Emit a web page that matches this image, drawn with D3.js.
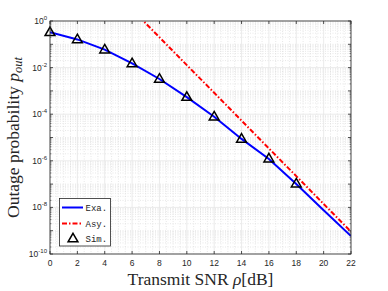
<!DOCTYPE html>
<html><head><meta charset="utf-8">
<script src="https://cdn.jsdelivr.net/npm/d3@7"></script>
<style>body{margin:0;background:#fff}svg{display:block}</style>
</head><body>
<svg id="c" width="388" height="291"></svg>
<script>
const snrExa = [0,2,4,6,8,10,12,14,16,18,20,22];
const poutExa = [0.327,0.162,0.0589,0.0151,0.00324,5.4e-4,7.8e-5,8.7e-6,1.2e-6,1.0e-7,7.6e-9,5.9e-10];
const snrAsy = [6,8,10,12,14,16,18,20,22];
const poutAsy = [3.1,0.2,0.0128,8.3e-4,5.3e-5,3.4e-6,2.2e-7,1.4e-8,9.1e-10];
const snrSim = [0,2,4,6,8,10,12,14,16,18];
const poutSim = [0.33,0.163,0.059,0.0152,0.0033,5.5e-4,7.9e-5,8.8e-6,1.25e-6,1.05e-7];
const xTicks = [0,2,4,6,8,10,12,14,16,18,20,22];
const yTickExp = [0,-2,-4,-6,-8,-10];
const legendLabels = ["Exa.","Asy.","Sim."];

const svg = d3.select("#c");
const L=50,R=351,T=21,B=254;
const x = d3.scaleLinear().domain([0,22]).range([L,R]);
const y = d3.scaleLog().domain([1e-10,1]).range([B,T]);

svg.append("rect").attr("x",L).attr("y",T).attr("width",R-L).attr("height",B-T).attr("fill","#fff");

// minor grid
const g = svg.append("g");
for(let v=0.5; v<22; v+=0.5){ if(Math.abs(v%2)<1e-9) continue;
  g.append("line").attr("x1",x(v)).attr("x2",x(v)).attr("y1",T).attr("y2",B)
   .attr("stroke","#d9d9d9").attr("stroke-width",0.6).attr("stroke-dasharray","1,1.5");
}
for(let e=-10;e<0;e++){ for(let m=2;m<=9;m++){ const v=m*Math.pow(10,e);
  g.append("line").attr("x1",L).attr("x2",R).attr("y1",y(v)).attr("y2",y(v))
   .attr("stroke","#d9d9d9").attr("stroke-width",0.6).attr("stroke-dasharray","1,1.5");
}}
for(let e=-9;e<0;e+=2){
  g.append("line").attr("x1",L).attr("x2",R).attr("y1",y(Math.pow(10,e))).attr("y2",y(Math.pow(10,e)))
   .attr("stroke","#d9d9d9").attr("stroke-width",0.6).attr("stroke-dasharray","1,1.5");
}
// major grid
xTicks.forEach(v=>g.append("line").attr("x1",x(v)).attr("x2",x(v)).attr("y1",T).attr("y2",B).attr("stroke","#e6e6e6").attr("stroke-width",0.8));
yTickExp.forEach(e=>g.append("line").attr("x1",L).attr("x2",R).attr("y1",y(Math.pow(10,e))).attr("y2",y(Math.pow(10,e))).attr("stroke","#e6e6e6").attr("stroke-width",0.8));

svg.append("clipPath").attr("id","clip").append("rect").attr("x",L).attr("y",T).attr("width",R-L).attr("height",B-T);
const plot = svg.append("g").attr("clip-path","url(#clip)");
const line = d3.line().x(d=>x(d[0])).y(d=>y(d[1]));
plot.append("path").datum(d3.zip(snrExa,poutExa)).attr("d",line).attr("fill","none").attr("stroke","#0000ff").attr("stroke-width",2);
plot.append("path").datum(d3.zip(snrAsy,poutAsy)).attr("d",line).attr("fill","none").attr("stroke","#ff0000").attr("stroke-width",2).attr("stroke-dasharray","5,2,1.5,2");

const tri = d3.symbol().type(d3.symbolTriangle).size(42);
svg.append("g").selectAll("path").data(d3.zip(snrSim,poutSim)).join("path")
  .attr("d",tri).attr("transform",d=>`translate(${x(d[0])},${y(d[1])+0.5})`)
  .attr("fill","none").attr("stroke","#000").attr("stroke-width",1.5);

// axes box and ticks
const ax = svg.append("g").attr("stroke","#262626").attr("stroke-width",0.8);
ax.append("rect").attr("x",L).attr("y",T).attr("width",R-L).attr("height",B-T).attr("fill","none");
xTicks.forEach(v=>{
  ax.append("line").attr("x1",x(v)).attr("x2",x(v)).attr("y1",B).attr("y2",B-3);
  ax.append("line").attr("x1",x(v)).attr("x2",x(v)).attr("y1",T).attr("y2",T+3);
});
for(let e=-10;e<=0;e++){
  ax.append("line").attr("x1",L).attr("x2",L+3).attr("y1",y(Math.pow(10,e))).attr("y2",y(Math.pow(10,e)));
  ax.append("line").attr("x1",R).attr("x2",R-3).attr("y1",y(Math.pow(10,e))).attr("y2",y(Math.pow(10,e)));
  if(e<0) for(let m=2;m<=9;m++){ const v=m*Math.pow(10,e);
    ax.append("line").attr("x1",L).attr("x2",L+1.5).attr("y1",y(v)).attr("y2",y(v)).attr("stroke-width",0.5);
    ax.append("line").attr("x1",R).attr("x2",R-1.5).attr("y1",y(v)).attr("y2",y(v)).attr("stroke-width",0.5);
  }
}

const tf = "Liberation Sans, Arial, sans-serif";
svg.append("g").selectAll("text").data(xTicks).join("text")
  .attr("x",d=>x(d)).attr("y",B+12).attr("text-anchor","middle")
  .attr("font-family",tf).attr("font-size",8.5).attr("fill","#262626").text(d=>d);
const yl = svg.append("g");
yTickExp.forEach(e=>{
  const t = yl.append("text").attr("x",L-3).attr("y",y(Math.pow(10,e))+3).attr("text-anchor","end")
    .attr("font-family",tf).attr("font-size",8.5).attr("fill","#262626");
  t.append("tspan").text("10");
  t.append("tspan").attr("dy",-4).attr("font-size",6).text(e);
});

// axis labels
const sf = "Liberation Serif, Times New Roman, serif";
svg.append("text").attr("x",(L+R)/2).attr("y",285).attr("text-anchor","middle")
  .attr("font-family",sf).attr("font-size",17.5).attr("fill","#262626")
  .html('Transmit SNR <tspan font-style="italic">ρ</tspan>[dB]');
const ylab = svg.append("text").attr("transform",`translate(19,${(T+B)/2}) rotate(-90)`).attr("text-anchor","middle")
  .attr("font-family",sf).attr("font-size",17.5).attr("fill","#262626");
ylab.append("tspan").text("Outage probability ");
ylab.append("tspan").attr("font-style","italic").text("p");
ylab.append("tspan").attr("font-style","italic").attr("font-size",12.5).attr("dy",3).text("out");

// legend
const lg = svg.append("g");
lg.append("rect").attr("x",59.5).attr("y",198.5).attr("width",51).attr("height",47.5).attr("fill","#fff").attr("stroke","#262626").attr("stroke-width",0.8);
const ly = [207.5,223.5,239];
lg.append("line").attr("x1",62).attr("x2",83).attr("y1",ly[0]).attr("y2",ly[0]).attr("stroke","#0000ff").attr("stroke-width",2);
lg.append("line").attr("x1",62).attr("x2",83).attr("y1",ly[1]).attr("y2",ly[1]).attr("stroke","#ff0000").attr("stroke-width",2).attr("stroke-dasharray","5,2,1.5,2");
lg.append("path").attr("d",tri).attr("transform",`translate(73,${ly[2]})`).attr("fill","none").attr("stroke","#000").attr("stroke-width",1.5);
legendLabels.forEach((t,i)=>lg.append("text").attr("x",85.5).attr("y",ly[i]+3).attr("font-family","Liberation Mono, Courier New, monospace").attr("font-size",9).attr("fill","#262626").text(t));
</script>
</body></html>
